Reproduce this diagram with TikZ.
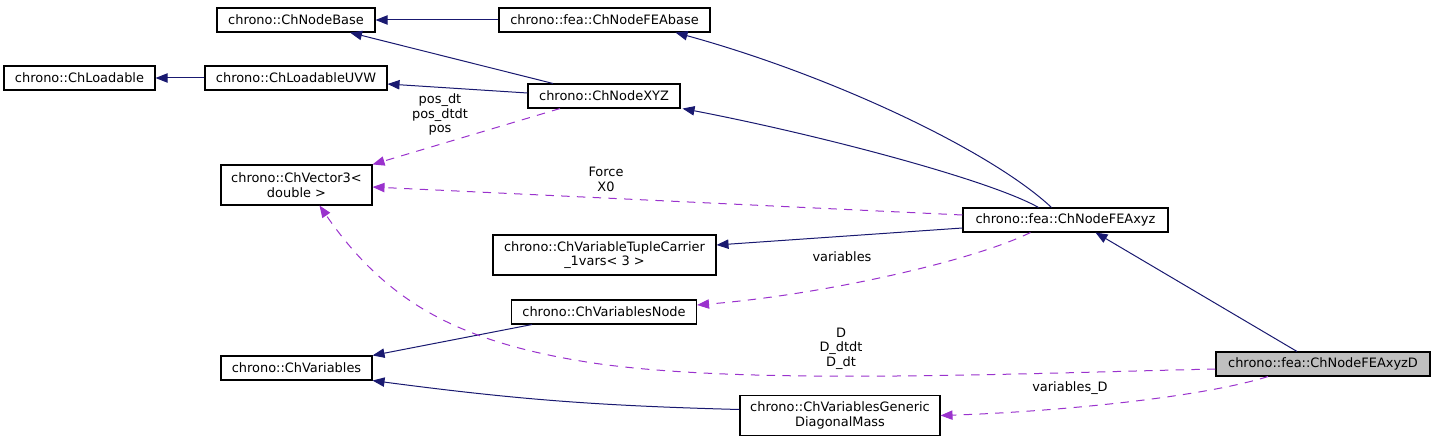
\documentclass[tikz,border=0pt]{standalone}
\usepackage{fontspec}
\setmainfont{DejaVu Sans}
\usepackage{tikz}
\usetikzlibrary{arrows.meta}
\usetikzlibrary{calc}

\definecolor{inhblue}{HTML}{191970}
\definecolor{usepurple}{HTML}{9A32CD}
\definecolor{selgray}{HTML}{BFBFBF}

\tikzset{
  cls/.style={draw=black, line width=0.8pt, fill=white, inner xsep=0pt, inner ysep=0pt,
    minimum height=18pt, align=center, font=\fontsize{9.7}{11}\selectfont},
  boxw/.style={minimum width=#1*0.75pt},
  inh/.style={draw=inhblue, line width=0.75pt, ->},
  uses/.style={draw=usepurple, line width=0.75pt, dash pattern=on 6.3pt off 5.5pt, ->},
  lbl/.style={align=center, inner sep=0pt, font=\fontsize{9.7}{10.9}\selectfont}
}

\begin{document}
\begin{tikzpicture}[x=0.75pt, y=-0.75pt, >={Triangle[length=9pt,width=7pt]}]

    % Frame of the picture
    \useasboundingbox (0,0) rectangle (1435,442);

    % Classes
    \node[cls, boxw=158] (base) at (296,20) {chrono::ChNodeBase};
    \node[cls, boxw=211] (feabase) at (604.5,20) {chrono::fea::ChNodeFEAbase};
    \node[cls, boxw=151] (loadable) at (79.5,78) {chrono::ChLoadable};
    \node[cls, boxw=182] (uvw) at (296,78) {chrono::ChLoadableUVW};
    \node[cls, boxw=152] (xyz) at (604,96) {chrono::ChNodeXYZ};
    \node[cls, boxw=151, minimum height=30pt] (vec) at (296.5,185) {chrono::ChVector3<\\double >};
    \node[cls, boxw=205] (feaxyz) at (1065.5,220) {chrono::fea::ChNodeFEAxyz};
    \node[cls, boxw=223, minimum height=30pt] (tuple) at (604.5,255) {chrono::ChVariableTupleCarrier\\\_1vars< 3 >};
    \node[cls, boxw=185] (varnode) at (604,312) {chrono::ChVariablesNode};
    \node[cls, boxw=151] (vars) at (296.5,368) {chrono::ChVariables};
    \node[cls, boxw=214, fill=selgray] (feaxyzd) at (1323,364) {chrono::fea::ChNodeFEAxyzD};
    \node[cls, boxw=200, minimum height=30pt] (diagmass) at (840,415.5) {chrono::ChVariablesGeneric\\DiagonalMass};

    % Inheritance
    \draw[inh] (feabase) -- (base);
    \draw[inh] (uvw) -- (loadable);
    \draw[inh] ($(xyz.north)+(-51,0)$) -- ($(base.south)+(54,0)$);
    \draw[inh] ($(xyz.west)+(0,-3)$) -- ($(uvw.east)+(0,6)$);
    \draw[inh] ($(feaxyz.north)+(-14,0)$) .. controls (990,150) and (830,75) .. ($(feabase.south)+(71,0)$);
    \draw[inh] ($(feaxyz.north)+(-27,0)$) .. controls (990,180) and (820,135) .. ($(xyz.south east)+(2,0)$);
    \draw[inh] ($(feaxyz.west)+(0,8)$) -- ($(tuple.east)+(0,-10)$);
    \draw[inh] ($(feaxyzd.north)+(-26,0)$) -- ($(feaxyz.south)+(30,0)$);
    \draw[inh] ($(varnode.south)+(-72,0)$) -- (vars.north east);
    \draw[inh] ($(diagmass.west)+(0,-6)$) to[bend left=3] (vars.south east);

    % Members
    \draw[uses] ($(xyz.south)+(-44,0)$) -- (vec.north east);
    \draw[uses] ($(feaxyz.west)+(0,-5)$) -- ($(vec.east)+(0,2)$);
    \draw[uses] ($(feaxyz.south)+(-35,0)$) .. controls (970,262) and (820,295) .. ($(varnode.east)+(0,-7)$);
    \draw[uses] ($(feaxyzd.west)+(0,5)$) .. controls (1000,374) and (743,385) .. (593,363)
        .. controls (463,343) and (388,305) .. ($(vec.south)+(23,0)$);
    \draw[uses] ($(feaxyzd.south)+(-55,0)$) .. controls (1200,398) and (1050,412) .. (diagmass.east);

    % Member names
    \node[lbl] (lpos) at (440,114.5) {pos\_dt\\pos\_dtdt\\pos};
    \node[lbl] (lforce) at (606,179.5) {Force\\X0};
    \node[lbl] (lvar) at (842,257) {variables};
    \node[lbl] (ld) at (841,348.5) {D\\D\_dtdt\\D\_dt};
    \node[lbl] (lvard) at (1070,388.5) {variables\_D};

\end{tikzpicture}
\end{document}
